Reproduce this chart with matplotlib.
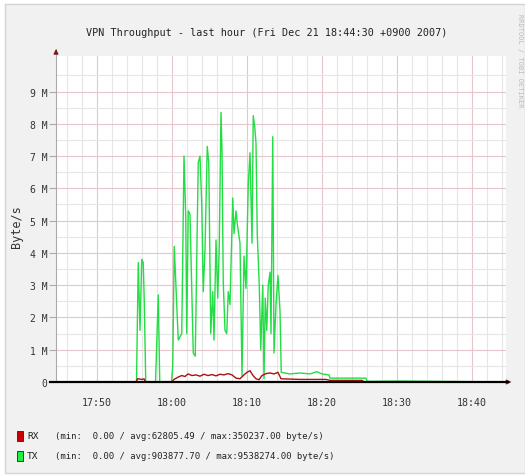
import pandas as pd
import numpy as np
import matplotlib
matplotlib.use('Agg')
import matplotlib.pyplot as plt
import matplotlib.dates as mdates
from matplotlib.patches import Rectangle
from matplotlib.ticker import FixedLocator, FuncFormatter

plt.rcParams['font.family'] = ['DejaVu Sans Mono']

# TX (sent) throughput, M byte/s
tx_time = ['17:44:30', '17:55:14', '17:55:28', '17:55:42', '17:55:56', '17:56:08',
           '17:56:16', '17:56:28', '17:57:46', '17:57:56', '17:58:08', '17:58:20',
           '17:59:54', '18:00:04', '18:00:16', '18:00:48', '18:01:16', '18:01:34',
           '18:01:48', '18:01:56', '18:02:08', '18:02:22', '18:02:48', '18:03:04',
           '18:03:28', '18:03:42', '18:03:56', '18:04:08', '18:04:22', '18:04:40',
           '18:04:52', '18:05:08', '18:05:24', '18:05:34', '18:05:50', '18:06:04',
           '18:06:16', '18:06:30', '18:06:38', '18:06:48', '18:07:02', '18:07:16',
           '18:07:28', '18:07:42', '18:08:04', '18:08:14', '18:08:30', '18:08:40',
           '18:09:02', '18:09:18', '18:09:34', '18:09:50', '18:10:08', '18:10:22',
           '18:10:38', '18:10:48', '18:11:00', '18:11:10', '18:11:20', '18:11:36',
           '18:11:48', '18:12:04', '18:12:14', '18:12:24', '18:12:36', '18:12:48',
           '18:13:02', '18:13:10', '18:13:24', '18:13:34', '18:13:50', '18:14:06',
           '18:14:22', '18:14:32', '18:15:42', '18:17:02', '18:18:22', '18:19:16',
           '18:19:58', '18:20:54', '18:21:02', '18:23:02', '18:25:50', '18:25:58',
           '18:30:22', '18:44:30']
tx_mb = [0, 0, 3.7, 1.6, 3.8, 3.7,
         2.5, 0, 0, 1.2, 2.7, 0,
         0, 0.5, 4.2, 1.3, 1.5, 7.0,
         5.1, 1.5, 5.3, 5.2, 0.9, 0.8,
         6.8, 7.0, 5.5, 2.8, 4.1, 7.3,
         6.8, 1.5, 2.8, 1.3, 4.4, 2.6,
         4.2, 8.35, 7.2, 3.1, 1.6, 1.5,
         2.8, 2.4, 5.7, 4.6, 5.3, 4.9,
         4.3, 0.2, 3.9, 2.9, 6.1, 7.1,
         4.3, 8.25, 7.9, 7.4, 4.6, 3.0,
         1.0, 3.0, 0.1, 2.6, 1.6, 3.0,
         3.4, 1.5, 7.6, 0.9, 2.4, 3.3,
         2.2, 0.3, 0.25, 0.28, 0.25, 0.32,
         0.25, 0.22, 0.12, 0.12, 0.12, 0.02,
         0.03, 0.0]

# RX (received) throughput, M byte/s
rx_time = ['17:44:30', '17:55:10', '17:55:22', '17:55:58', '17:56:14', '17:56:26',
           '18:00:00', '18:00:14', '18:00:46', '18:01:16', '18:01:42', '18:02:06',
           '18:02:38', '18:03:10', '18:03:42', '18:04:14', '18:04:46', '18:05:18',
           '18:05:50', '18:06:22', '18:06:54', '18:07:26', '18:07:58', '18:08:30',
           '18:09:02', '18:09:34', '18:09:58', '18:10:22', '18:10:46', '18:11:10',
           '18:11:34', '18:11:58', '18:12:30', '18:13:02', '18:13:34', '18:14:06',
           '18:14:30', '18:17:02', '18:20:30', '18:21:02', '18:25:18', '18:25:34',
           '18:44:30']
rx_mb = [0, 0, 0.1, 0.08, 0.1, 0,
         0, 0.08, 0.15, 0.2, 0.17, 0.25,
         0.2, 0.22, 0.18, 0.24, 0.2, 0.23,
         0.19, 0.24, 0.22, 0.26, 0.22, 0.12,
         0.1, 0.22, 0.3, 0.35, 0.2, 0.1,
         0.07, 0.2, 0.26, 0.28, 0.25, 0.3,
         0.1, 0.08, 0.08, 0.05, 0.05, 0.0,
         0]

title = 'VPN Throughput - last hour (Fri Dec 21 18:44:30 +0900 2007)'
legend_rows = [('RX', '(min:  0.00 / avg:62805.49 / max:350237.00 byte/s)', '#CC0000'),
               ('TX', '(min:  0.00 / avg:903877.70 / max:9538274.00 byte/s)', '#22EE44')]

day = '2007-12-21 '
tx_t = pd.to_datetime([day + t for t in tx_time])
rx_t = pd.to_datetime([day + t for t in rx_time])
tx_v = np.array(tx_mb) * 1e6
rx_v = np.array(rx_mb) * 1e6

W, H = 525, 477
fig = plt.figure(figsize=(W / 100, H / 100), dpi=100)
fig.patch.set_facecolor('white')


def fx(x):
    return x / W


def fy(y):
    return 1 - y / H


# grey canvas like rrdtool
fig.patches.append(Rectangle((fx(5), fy(474)), fx(525) - fx(5), fy(5) - fy(474),
                             transform=fig.transFigure, facecolor='#F1F1F1',
                             edgecolor='#D4D4D4', lw=1, zorder=-10))

ax = fig.add_axes([fx(56), fy(383), fx(506) - fx(56), fy(57) - fy(383)])
ax.set_facecolor('white')

ax.plot(tx_t, tx_v, color='#22DD44', lw=1.0, zorder=3)
ax.plot(rx_t, rx_v, color='#AA1111', lw=1.0, zorder=4)

ax.set_xlim(pd.Timestamp(day + '17:44:30'), pd.Timestamp(day + '18:44:30'))
ax.set_ylim(0, 10.1e6)

ax.xaxis.set_major_locator(mdates.MinuteLocator(byminute=range(0, 60, 10)))
ax.xaxis.set_minor_locator(mdates.MinuteLocator(byminute=range(0, 60, 2)))
ax.xaxis.set_major_formatter(mdates.DateFormatter('%H:%M'))
ax.yaxis.set_major_locator(FixedLocator(np.arange(0, 10) * 1e6))
ax.yaxis.set_minor_locator(FixedLocator(np.arange(0.5, 10, 1) * 1e6))
ax.yaxis.set_major_formatter(FuncFormatter(lambda v, p: '0' if v == 0 else f'{v / 1e6:.0f} M'))

ax.grid(which='minor', color='#E6E6E6', lw=0.8, zorder=1)
ax.grid(which='major', color='#E6C6CA', lw=0.8, zorder=2)

ax.tick_params(axis='x', which='both', length=0, pad=11, labelsize=7.2, colors='#333333')
ax.tick_params(axis='y', which='major', length=5, width=0.8, color='#AAAAAA', pad=1,
               labelsize=7, labelcolor='#333333')
ax.tick_params(axis='y', which='minor', length=0)

for s in ['top', 'right']:
    ax.spines[s].set_visible(False)
ax.spines['left'].set_color('#AAAAAA')
ax.spines['left'].set_linewidth(0.8)
ax.spines['bottom'].set_visible(False)

# axis lines with rrdtool arrows
ax.plot([-0.013, 1.005], [0, 0], transform=ax.transAxes, color='black', lw=1.6,
        clip_on=False, zorder=5)
ax.annotate('', xy=(1.012, 0), xytext=(1.0, 0), xycoords='axes fraction',
            arrowprops=dict(arrowstyle='-|>', color='#7A1A1A', lw=0.8, mutation_scale=7))
ax.plot([0, 0], [1.0, 1.02], transform=ax.transAxes, color='#AAAAAA', lw=0.8,
        clip_on=False)
ax.annotate('', xy=(0, 1.03), xytext=(0, 1.0), xycoords='axes fraction',
            arrowprops=dict(arrowstyle='-|>', color='#7A1A1A', lw=0.8, mutation_scale=7))

fig.text(fx(267), fy(33), title, ha='center', va='center', fontsize=7.3, color='#222222')
fig.text(fx(16), fy(227), 'Byte/s', rotation=90, ha='center', va='center',
         fontsize=8.5, color='#333333')
fig.text(fx(520), fy(14), 'RRDTOOL / TOBI OETIKER', rotation=270, ha='center', va='top',
         fontsize=5, color='#BBBBBB')

for i, (name, stats, col) in enumerate(legend_rows):
    yc = 437 + 20 * i
    fig.patches.append(Rectangle((fx(17), fy(yc + 5)), fx(6), fy(0) - fy(10),
                                 transform=fig.transFigure, facecolor=col,
                                 edgecolor='#222222', lw=0.6, zorder=3))
    fig.text(fx(27), fy(yc), name, ha='left', va='center', fontsize=6.8, color='#222222')
    fig.text(fx(55), fy(yc), stats, ha='left', va='center', fontsize=6.4, color='#222222')

plt.savefig('out.png', dpi=100)
